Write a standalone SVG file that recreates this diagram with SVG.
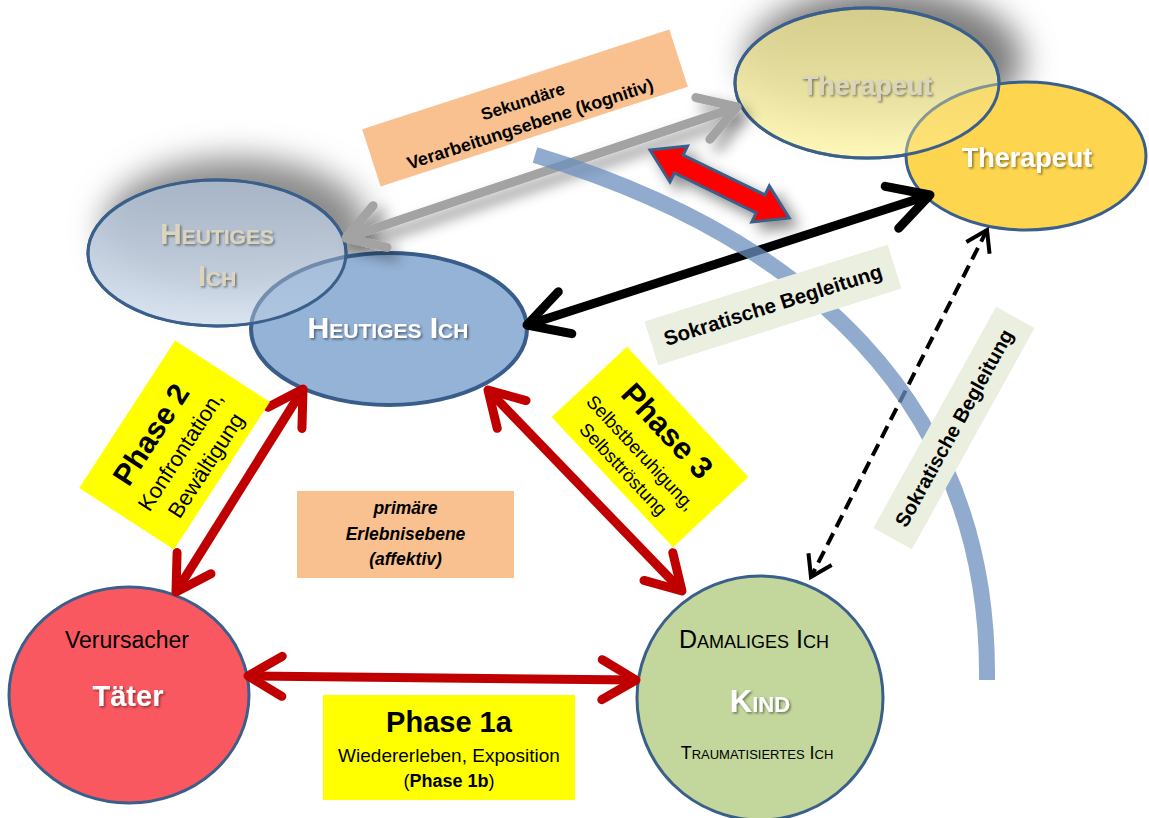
<svg xmlns="http://www.w3.org/2000/svg" width="1149" height="818" viewBox="0 0 1149 818">
<defs>
  <filter id="blurBig" x="-50%" y="-50%" width="200%" height="200%"><feGaussianBlur stdDeviation="16"/></filter>
  <filter id="dropShadow" x="-30%" y="-60%" width="160%" height="220%"><feDropShadow dx="8" dy="8" stdDeviation="7" flood-color="#000" flood-opacity="0.45"/></filter>
  <filter id="txtShadow" x="-10%" y="-30%" width="130%" height="160%"><feDropShadow dx="1.5" dy="1.5" stdDeviation="1" flood-color="#000" flood-opacity="0.45"/></filter>
  <linearGradient id="gGhostBlue" x1="0" y1="0" x2="0" y2="1"><stop offset="0" stop-color="#a9b8cb"/><stop offset="1" stop-color="#d6e1ef"/></linearGradient>
  <linearGradient id="gGhostYellow" x1="0" y1="0" x2="0" y2="1"><stop offset="0" stop-color="#d9d18c"/><stop offset="1" stop-color="#fff7b4"/></linearGradient>
  <marker id="mRed" markerUnits="userSpaceOnUse" orient="auto-start-reverse" viewBox="-50 -30 60 60" refX="0" refY="0" markerWidth="60" markerHeight="60">
    <path d="M-34,-20 L0,0 L-34,20" fill="none" stroke="#c00000" stroke-width="9" stroke-linecap="round" stroke-linejoin="round"/>
  </marker>
  <marker id="mBlack" markerUnits="userSpaceOnUse" orient="auto-start-reverse" viewBox="-50 -30 60 60" refX="0" refY="0" markerWidth="60" markerHeight="60">
    <path d="M-40,-22 L0,0 L-40,22" fill="none" stroke="#000" stroke-width="9" stroke-linecap="round" stroke-linejoin="round"/>
  </marker>
  <marker id="mGray" markerUnits="userSpaceOnUse" orient="auto-start-reverse" viewBox="-50 -30 60 60" refX="0" refY="0" markerWidth="60" markerHeight="60">
    <path d="M-36,-22 L0,0 L-36,22" fill="none" stroke="#a3a3a3" stroke-width="9" stroke-linecap="round" stroke-linejoin="round"/>
  </marker>
  <marker id="mDash" markerUnits="userSpaceOnUse" orient="auto-start-reverse" viewBox="-30 -20 40 40" refX="0" refY="0" markerWidth="40" markerHeight="40">
    <path d="M-20,-13 L0,0 L-20,13" fill="none" stroke="#000" stroke-width="4" stroke-dasharray="none" stroke-linejoin="miter"/>
  </marker>
</defs>
<style>
  text { font-family: "Liberation Sans", Arial, sans-serif; text-anchor: middle; }
  .b { font-weight: bold; }
  .sc { font-variant: small-caps; }
  .white { fill: #fff; filter: url(#txtShadow); }
  .ghostTxt { fill: #dbd5be; filter: url(#txtShadow); }
  .nodeStroke { stroke: #3a5f8b; stroke-width: 3; }
  .redLine { stroke: #c00000; stroke-width: 9; fill: none; marker-start: url(#mRed); marker-end: url(#mRed); }
  .yellowBox { fill: #ffff00; }
  .orangeBox { fill: #f9c190; }
  .greenBox { fill: #ebefdf; }
</style>

<!-- ghost shadows -->
<g id="shadows">
  <ellipse cx="236" cy="228" rx="132" ry="70" fill="#8a8a8a" filter="url(#blurBig)"/>
  <ellipse cx="885" cy="60" rx="138" ry="72" fill="#7d7d7d" filter="url(#blurBig)"/>
</g>

<!-- labels under connectors -->
<g id="label-sekundaer" transform="rotate(-18 525 108)">
  <rect class="orangeBox" x="363.5" y="78" width="323" height="60"/>
  <text class="b" x="525" y="107" font-size="17">Sekundäre</text>
  <text class="b" x="525" y="131" font-size="18">Verarbeitungsebene (kognitiv)</text>
</g>

<!-- nodes: base ellipses -->
<g id="node-heutiges-ghost-base">
  <ellipse cx="217" cy="253" rx="129" ry="73" fill="url(#gGhostBlue)" fill-opacity="0.85" class="nodeStroke"/>
</g>
<g id="node-heutiges-ich">
  <ellipse cx="389" cy="329" rx="138" ry="76" fill="#95b3d7" stroke="#385d8a" stroke-width="4"/>
</g>
<g id="node-heutiges-ghost">
  <ellipse cx="217" cy="253" rx="129" ry="73" fill="url(#gGhostBlue)" fill-opacity="0.4" class="nodeStroke"/>
  <text class="b sc ghostTxt" x="217" y="244" font-size="30">Heutiges</text>
  <text class="b sc ghostTxt" x="217" y="286" font-size="30">Ich</text>
</g>
<text class="b sc white" x="388" y="338" font-size="30">Heutiges Ich</text>

<g id="node-therapeut-ghost-base">
  <ellipse cx="867" cy="83" rx="132" ry="75" fill="url(#gGhostYellow)" fill-opacity="0.9" class="nodeStroke"/>
</g>
<g id="node-therapeut">
  <ellipse cx="1026" cy="156" rx="120" ry="74" fill="#fed54e" class="nodeStroke"/>
</g>
<g id="node-therapeut-ghost">
  <ellipse cx="867" cy="83" rx="132" ry="75" fill="url(#gGhostYellow)" fill-opacity="0.4" class="nodeStroke"/>
  <text class="b ghostTxt" x="867" y="95" font-size="27">Therapeut</text>
</g>
<text class="b white" x="1027" y="167" font-size="27">Therapeut</text>

<g id="node-taeter">
  <ellipse cx="129" cy="695" rx="120" ry="108" fill="#fa5860" class="nodeStroke"/>
  <text x="127" y="648" font-size="23" fill="#000">Verursacher</text>
  <text class="b white" x="128" y="706" font-size="29">Täter</text>
</g>

<g id="node-kind">
  <ellipse cx="760" cy="698" rx="123" ry="122" fill="#c3d69b" class="nodeStroke"/>
  <text class="sc" x="754" y="648" font-size="25" fill="#000">Damaliges Ich</text>
  <text class="b sc white" x="760" y="712" font-size="31">Kind</text>
  <text class="sc" x="757" y="759" font-size="18" fill="#000">Traumatisiertes Ich</text>
</g>

<!-- connectors -->
<g id="connectors">
  <g filter="url(#dropShadow)">
    <path d="M346,238 L737,107" stroke="#a3a3a3" stroke-width="9" fill="none" marker-start="url(#mGray)" marker-end="url(#mGray)"/>
  </g>
  <g filter="url(#dropShadow)">
    <polygon transform="translate(650,150) rotate(26)" points="0,0 32,-20 32,-10 123,-10 123,-20 155,0 123,20 123,10 32,10 32,20" fill="#ff0000" stroke="#3a5f8b" stroke-width="3" stroke-linejoin="miter"/>
  </g>
  <path d="M527,325 L930,195" stroke="#000" stroke-width="9" fill="none" marker-start="url(#mBlack)" marker-end="url(#mBlack)"/>
  <path d="M987,230 L811,577" stroke="#000" stroke-width="4" stroke-dasharray="13,7" fill="none" marker-start="url(#mDash)" marker-end="url(#mDash)"/>
  <path class="redLine" d="M176,592 L303,389"/>
  <path class="redLine" d="M488,390 L682,591"/>
  <path class="redLine" d="M248,676 L636,680"/>
</g>

<!-- blue arc -->
<path id="arc" d="M535,155 C800,235 990,400 987,680" stroke="#6b8fbc" stroke-opacity="0.75" stroke-width="16" fill="none"/>

<!-- labels -->
<g id="label-sokratisch-1" transform="rotate(-17.5 773 305)">
  <rect class="greenBox" x="645.5" y="282" width="255" height="46"/>
  <text class="b" x="773" y="312" font-size="20.5">Sokratische Begleitung</text>
</g>
<g id="label-sokratisch-2" transform="rotate(-61 954 428)">
  <rect class="greenBox" x="827.5" y="406" width="253" height="44"/>
  <text class="b" x="954" y="435" font-size="20">Sokratische Begleitung</text>
</g>
<g id="label-phase2" transform="translate(174.5 445) rotate(-57)">
  <rect class="yellowBox" x="-88" y="-56.5" width="176" height="113"/>
  <text class="b" x="-4" y="-15" font-size="30">Phase 2</text>
  <text x="-2" y="16" font-size="22">Konfrontation,</text>
  <text x="0" y="45" font-size="22">Bewältigung</text>
</g>
<g id="label-phase3" transform="translate(650 447) rotate(47)">
  <rect class="yellowBox" x="-89" y="-51.5" width="178" height="103"/>
  <text class="b" x="0" y="-13" font-size="31">Phase 3</text>
  <text x="-2" y="17" font-size="18.5">Selbstberuhigung,</text>
  <text x="-2" y="41" font-size="18.5">Selbsttröstung</text>
</g>
<g id="label-phase1a">
  <rect class="yellowBox" x="323" y="695" width="252" height="105"/>
  <text class="b" x="449" y="732" font-size="29">Phase 1a</text>
  <text x="449" y="762" font-size="19">Wiedererleben, Exposition</text>
  <text x="449" y="787" font-size="18">(<tspan class="b">Phase 1b</tspan>)</text>
</g>
<g id="label-primaer">
  <rect class="orangeBox" x="297" y="491" width="217" height="87"/>
  <text class="b" font-style="italic" x="405.5" y="514" font-size="17.5">primäre</text>
  <text class="b" font-style="italic" x="405.5" y="540" font-size="17.5">Erlebnisebene</text>
  <text class="b" font-style="italic" x="405.5" y="565" font-size="17.5">(affektiv)</text>
</g>
</svg>
